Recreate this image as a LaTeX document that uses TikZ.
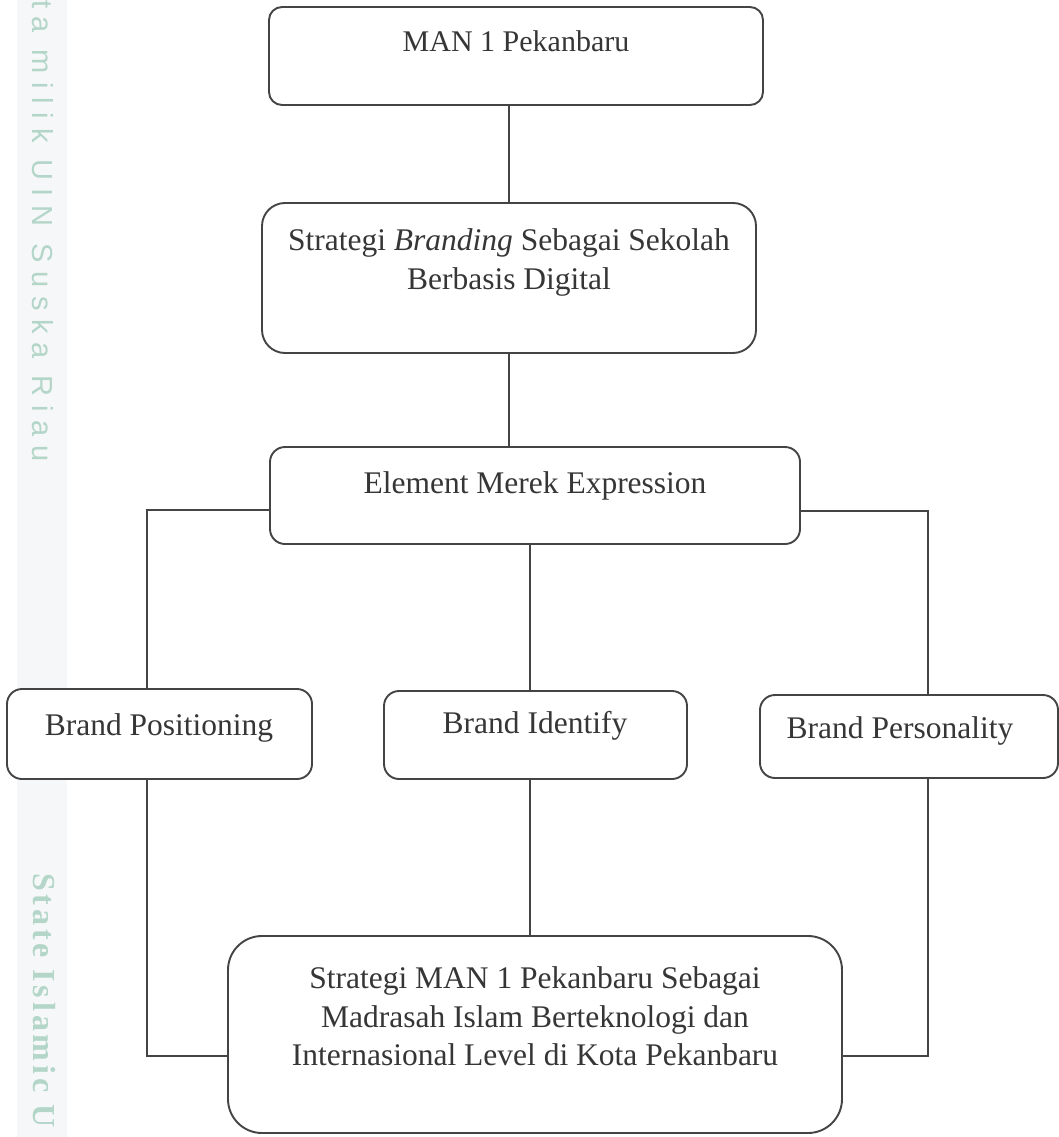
\documentclass[tikz,border=0pt]{standalone}
\usepackage{fontspec}
\setmainfont{Liberation Serif}
\newfontfamily\wmsans[LetterSpace=30]{Liberation Sans}
\newfontfamily\wmserif[LetterSpace=12]{Liberation Serif}
\definecolor{lc}{HTML}{444444}
\definecolor{tc}{HTML}{363636}
\definecolor{wm}{HTML}{B3D6C8}
\definecolor{band}{HTML}{F6F7F8}
\begin{document}
\begin{tikzpicture}[x=1pt,y=-1pt,
  box/.style={draw=lc, line width=1.9pt, inner sep=0pt, rectangle, fill=white},
  txt/.style={text=tc, inner sep=0pt, anchor=base, font=\fontsize{31.5}{38}\selectfont},
  conn/.style={draw=lc, line width=1.9pt},
  wmtext/.style={text=wm, inner sep=0pt, rotate=-90, anchor=west}]
\useasboundingbox (0,0) rectangle (1059,1137);
\fill[white] (0,0) rectangle (1059,1137);
\fill[band] (17,0) rectangle (67,1137);
\node[wmtext, font=\wmsans\fontsize{29}{30}\selectfont] (wm1) at (43,0) {ta milik UIN Suska Riau};
\node[wmtext, font=\wmserif\bfseries\fontsize{32}{34}\selectfont] (wm2) at (44,873) {State Islamic U};

% boxes
\node[box, rounded corners=13pt, minimum width=494pt, minimum height=98pt] (b1) at (516,56) {};
\node[box, rounded corners=23pt, minimum width=494pt, minimum height=150pt] (b2) at (509,278) {};
\node[box, rounded corners=15pt, minimum width=530pt, minimum height=97pt] (b3) at (535,495.5) {};
\node[box, rounded corners=15pt, minimum width=305pt, minimum height=90pt] (bp) at (159.5,734) {};
\node[box, rounded corners=15pt, minimum width=303pt, minimum height=88pt] (bi) at (535.5,735) {};
\node[box, rounded corners=15pt, minimum width=298pt, minimum height=83pt] (bq) at (909,736.5) {};
\node[box, rounded corners=34pt, minimum width=614pt, minimum height=197pt] (b5) at (535,1034.5) {};

% texts
\node[txt, font=\fontsize{30}{36}\selectfont] (t1) at (516,52) {MAN 1 Pekanbaru};
\node[txt] (t2a) at (509,250) {Strategi \textit{Branding} Sebagai Sekolah};
\node[txt] (t2b) at (509,289) {Berbasis Digital};
\node[txt] (t3) at (535,493) {Element Merek Expression};
\node[txt] (tp) at (159,735) {Brand Positioning};
\node[txt] (ti) at (535,733) {Brand Identify};
\node[txt] (tq) at (900,738) {Brand Personality};
\node[txt] (t5a) at (535,988) {Strategi MAN 1 Pekanbaru Sebagai};
\node[txt] (t5b) at (535,1027) {Madrasah Islam Berteknologi dan};
\node[txt] (t5c) at (535,1065) {Internasional Level di Kota Pekanbaru};

% connectors
\coordinate (m) at (530,0);
\coordinate (L) at (147,510);
\coordinate (R) at (928,511);
\coordinate (LB) at (147,1056);
\coordinate (RB) at (928,1056);
\draw[conn] (b1.south -| b2.north) -- (b2.north);
\draw[conn] (b2.south) -- (b2.south |- b3.north);
\draw[conn] (b3.south -| m) -- (bi.north -| m);
\draw[conn] (b3.west |- L) -- (L) -- (L |- bp.north);
\draw[conn] (b3.east |- R) -- (R) -- (R |- bq.north);
\draw[conn] (bp.south -| LB) -- (LB) -- (LB -| b5.west);
\draw[conn] (bi.south -| m) -- (b5.north -| m);
\draw[conn] (bq.south -| RB) -- (RB) -- (RB -| b5.east);
\end{tikzpicture}
\end{document}
